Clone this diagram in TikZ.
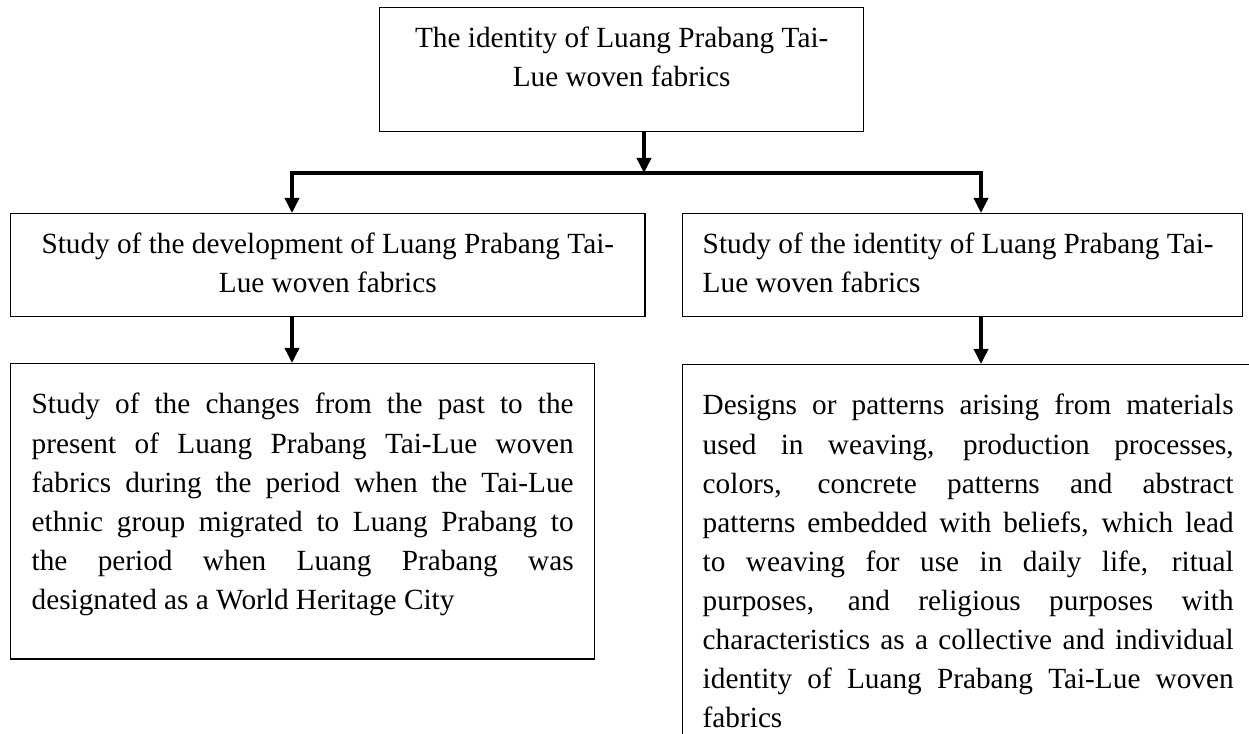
\documentclass[tikz,border=0pt]{standalone}
\usepackage{fontspec}
\setmainfont{Liberation Serif}
\usetikzlibrary{arrows.meta}
\hbadness=10000
\newcommand{\boxtext}[4][16.4pt]{\parbox[c][#3][t]{#2}{\rule{0pt}{#1}#4}}
\begin{document}
\begin{tikzpicture}[x=0.41pt,y=-0.41pt,>={Triangle[length=6.2pt,width=5.8pt]},font=\fontsize{12}{16}\selectfont,
	box/.style={draw,line width=0.6pt,inner ysep=0pt,anchor=north west},
	link/.style={->,line width=1.4pt},
	bar/.style={line width=1.4pt,line cap=rect}]
	\useasboundingbox (0,0) rectangle (1249,733);
	\clip (0,0) rectangle (1249,733);
	\node[box,inner xsep=8pt] (top) at (379,7) {\boxtext{182.4pt}{50.8pt}{\centering The identity of Luang Prabang Tai-\\Lue woven fabrics}};
	\node[box,inner xsep=8pt] (midl) at (10,213) {\boxtext{244pt}{42.2pt}{\centering Study of the development of Luang Prabang Tai-\\Lue woven fabrics}};
	\node[box,inner xsep=8.2pt] (midr) at (682,213) {\boxtext{213.2pt}{42.2pt}{\raggedright Study of the identity of Luang Prabang Tai-\\Lue woven fabrics}};
	\node[box,inner xsep=8.6pt] (botl) at (10,363) {\boxtext[20.6pt]{222.2pt}{121pt}{Study of the changes from the past to the\linebreak present of Luang Prabang Tai-Lue woven\linebreak fabrics during the period when the Tai-Lue\linebreak ethnic group migrated to Luang Prabang to\linebreak the period when Luang Prabang was\linebreak designated as a World Heritage City}};
	\node[box,inner xsep=8.2pt] (botr) at (682,364) {\boxtext[20.6pt]{217.7pt}{164pt}{Designs or patterns arising from materials\linebreak used in weaving, production processes,\linebreak colors, concrete patterns and abstract\linebreak patterns embedded with beliefs, which lead\linebreak to weaving for use in daily life, ritual\linebreak purposes, and religious purposes with\linebreak characteristics as a collective and individual\linebreak identity of Luang Prabang Tai-Lue woven\linebreak fabrics}};
	\coordinate (jl) at (292,173);
	\coordinate (jm) at (644,173);
	\coordinate (jr) at (981,173);
	\draw[link] (jm |- top.south) -- (jm);
	\draw[bar] (jl) -- (jr);
	\draw[link] (jl) -- (jl |- midl.north);
	\draw[link] (jr) -- (jr |- midr.north);
	\draw[link] (jl |- midl.south) -- (jl |- botl.north);
	\draw[link] (jr |- midr.south) -- (jr |- botr.north);
\end{tikzpicture}
\end{document}
